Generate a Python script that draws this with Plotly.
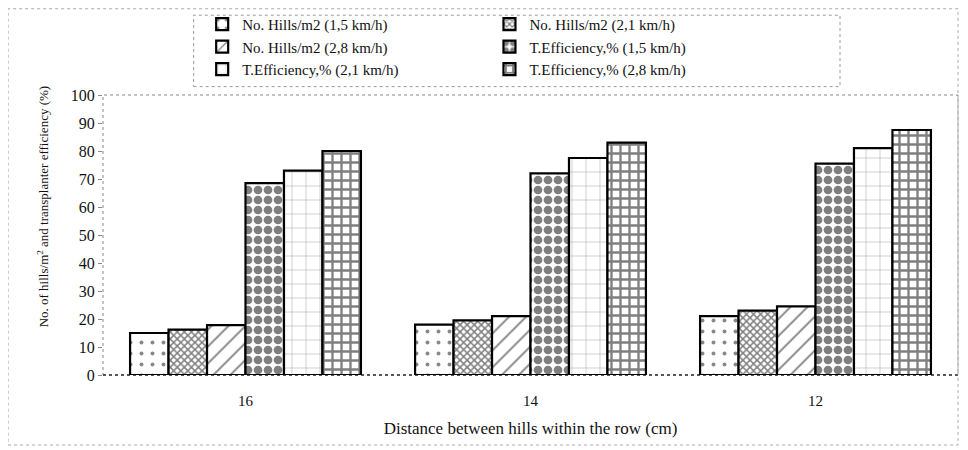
import plotly.graph_objects as go

categories = ["16", "14", "12"]
series_names = [
    "No. Hills/m2 (1,5 km/h)",
    "No. Hills/m2 (2,1 km/h)",
    "No. Hills/m2 (2,8 km/h)",
    "T.Efficiency,% (1,5 km/h)",
    "T.Efficiency,% (2,1 km/h)",
    "T.Efficiency,% (2,8 km/h)",
]
hills_15 = [15, 18, 21]
hills_21 = [16.2, 19.5, 23]
hills_28 = [17.8, 21, 24.5]
eff_15 = [68.5, 72, 75.5]
eff_21 = [73, 77.5, 81]
eff_28 = [80, 83, 87.5]
series_values = [hills_15, hills_21, hills_28, eff_15, eff_21, eff_28]
y_ticks = [0, 10, 20, 30, 40, 50, 60, 70, 80, 90, 100]

patterns = [
    dict(shape=".", size=11, solidity=0.1, fgcolor="#111", bgcolor="white"),
    dict(shape="x", size=5, solidity=0.5, fgcolor="#000", bgcolor="white"),
    dict(shape="/", size=12, solidity=0.15, fgcolor="#000", bgcolor="white"),
    dict(shape=".", size=10, solidity=0.6, fgcolor="#000", bgcolor="white"),
    dict(shape="+", size=14, solidity=0.07, fgcolor="#444", bgcolor="white"),
    dict(shape="+", size=9, solidity=0.45, fgcolor="#000", bgcolor="white"),
]
legend_ids = ["legend", "legend2", "legend", "legend2", "legend", "legend2"]

FONT = "Liberation Serif"
fig = go.Figure()
for name, vals, pat, lg in zip(series_names, series_values, patterns, legend_ids):
    fig.add_trace(go.Bar(
        x=categories, y=vals, name=name, legend=lg,
        marker=dict(color="white", line=dict(color="black", width=2.2), pattern=pat),
    ))

leg_common = dict(
    orientation="v", yanchor="top", xanchor="left", y=1.311,
    font=dict(family=FONT, size=15, color="#111"),
    bgcolor="rgba(0,0,0,0)", borderwidth=0, tracegroupgap=0, itemwidth=30,
)

fig.update_layout(
    width=960, height=442,
    margin=dict(l=95, r=10, t=87, b=75, autoexpand=False),
    paper_bgcolor="white", plot_bgcolor="white",
    barmode="group", bargap=0.19, bargroupgap=0,
    font=dict(family=FONT, color="#111", size=15),
    showlegend=True,
    legend=dict(x=0.116, **leg_common),
    legend2=dict(x=0.452, **leg_common),
    xaxis=dict(
        showline=False, ticks="outside", ticklen=12, tickcolor="rgba(0,0,0,0)",
        tickfont=dict(family=FONT, size=15),
        title=dict(text="Distance between hills within the row (cm)",
                   font=dict(family=FONT, size=17), standoff=14),
    ),
    yaxis=dict(
        range=[0, 100], tickvals=y_ticks, showgrid=False, zeroline=False,
        showline=False, ticks="outside", ticklen=4, tickcolor="#888",
        tickfont=dict(family=FONT, size=16),
    ),
)

# plot-area frame (dotted), baseline, legend box and outer frame
fig.add_shape(type="rect", xref="paper", yref="paper", x0=0, x1=1, y0=0, y1=1,
              line=dict(color="#888", width=1, dash="dot"), layer="below")
fig.add_shape(type="line", xref="paper", yref="paper", x0=0, x1=1, y0=0, y1=0,
              line=dict(color="#333", width=1.5, dash="dot"), layer="below")
fig.add_shape(type="rect", xref="paper", yref="paper",
              x0=0.106, x1=0.862, y0=1.03, y1=1.285,
              line=dict(color="#999", width=1, dash="dot"))
fig.add_shape(type="rect", xref="paper", yref="paper",
              x0=-0.111, x1=1.0, y0=-0.25, y1=1.308,
              line=dict(color="#aaa", width=1, dash="dot"))

fig.add_annotation(
    text="No. of hills/m<sup>2</sup> and transplanter efficiency (%)",
    xref="paper", yref="paper", x=-0.0708, y=0.604, textangle=-90,
    xanchor="center", yanchor="middle",
    showarrow=False, font=dict(family=FONT, size=13, color="#111"),
)

fig.write_html("out.html")
